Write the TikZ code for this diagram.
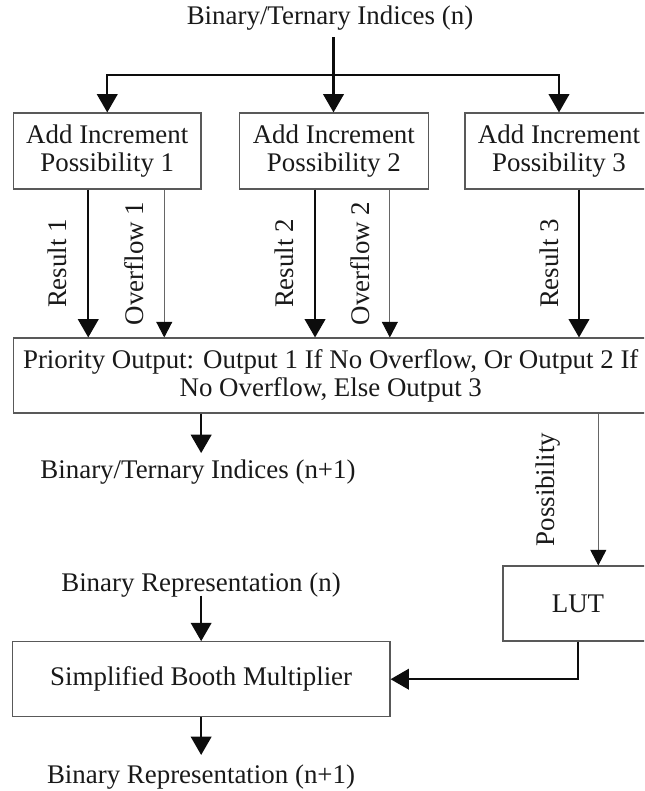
\documentclass[tikz,border=0pt]{standalone}
\usepackage{fontspec}
\setmainfont{Liberation Serif}
\usetikzlibrary{arrows.meta}
\begin{document}
\begin{tikzpicture}[x=0.5pt,y=-0.5pt,
  txt/.style={font=\fontsize{13.45}{14.1}\selectfont, text=black!90},
  blk/.style={draw=black!65, line width=0.55pt, align=center, inner sep=0pt, txt},
  lbl/.style={inner sep=0pt, txt},
  sidelbl/.style={inner sep=0pt, txt, rotate=90, anchor=south},
  thickarr/.style={line width=1.1pt, draw=black!95, -{Triangle[length=9.2pt,width=10.3pt]}},
  thinarr/.style={line width=0.45pt, draw=black!60, -{Triangle[length=7.8pt,width=8pt,color=black!95]}},
  thickline/.style={line width=1.1pt, draw=black!95},
]
\useasboundingbox (0,0) rectangle (644,791);
\clip (0,0) rectangle (644,791);

% blocks
\node[blk, minimum width=93.75pt, minimum height=38pt] (inc1) at (107.25,151) {Add Increment\\Possibility 1};
\node[blk, minimum width=94.5pt, minimum height=38pt] (inc2) at (333.85,151) {Add Increment\\Possibility 2};
\node[blk, minimum width=94pt, minimum height=38pt] (inc3) at (559,151) {Add Increment\\Possibility 3};
\node[blk, minimum width=317.25pt, minimum height=37.5pt] (prio) at (330.75,375.5)
  {Priority Output: Output 1 If No Overflow, Or Output 2 If\\No Overflow, Else Output 3};
\node[blk, minimum width=75pt, minimum height=37.5pt] (lut) at (578,603.5) {LUT};
\node[blk, minimum width=188.85pt, minimum height=37.5pt] (booth) at (201.15,679.2) {Simplified Booth Multiplier};

% free-standing labels
\node[lbl] (inN) at (330,18) {Binary/Ternary Indices (n)};
\node[lbl] (outN) at (198,471.7) {Binary/Ternary Indices (n+1)};
\node[lbl] (repN) at (201,585) {Binary Representation (n)};
\node[lbl] (repN1) at (201,777) {Binary Representation (n+1)};

% fan-out of the input indices
\coordinate (split) at (333.5,75);
\draw[thickline] ([yshift=-3.2pt]inN.south -| split) -- (split);
\draw[thickarr] (split) -| (inc1.north);
\draw[thickarr] (split) -- (split |- inc2.north);
\draw[thickarr] (split) -| (inc3.north);

% results and overflow flags
\draw[thickarr] ([xshift=-9.5pt]inc1.south) -- ([xshift=-9.5pt]inc1.south |- prio.north)
  node[midway, xshift=-10.25pt, sidelbl] {Result 1};
\draw[thinarr] ([xshift=28.5pt]inc1.south) -- ([xshift=28.5pt]inc1.south |- prio.north)
  node[midway, xshift=-10.25pt, sidelbl] {Overflow 1};
\draw[thickarr] ([xshift=-9.4pt]inc2.south) -- ([xshift=-9.4pt]inc2.south |- prio.north)
  node[midway, xshift=-10pt, sidelbl] {Result 2};
\draw[thinarr] ([xshift=28pt]inc2.south) -- ([xshift=28pt]inc2.south |- prio.north)
  node[midway, xshift=-10pt, sidelbl] {Overflow 2};
\draw[thickarr] ([xshift=10pt]inc3.south) -- ([xshift=10pt]inc3.south |- prio.north)
  node[midway, xshift=-9.5pt, sidelbl] {Result 3};

% outputs of the priority stage
\draw[thickarr] (prio.south -| booth.north) -- ([yshift=3pt]outN.north -| booth.north);
\draw[thinarr] ([xshift=10.15pt]lut.north |- prio.south) -- ([xshift=10.15pt]lut.north)
  node[midway, xshift=-18.6pt, sidelbl] {Possibility};

% multiplier path
\draw[thickarr] ([yshift=1pt]repN.south -| booth.north) -- (booth.north);
\draw[thickarr] (lut.south) |- (booth.east);
\draw[thickarr] (booth.south) -- ([yshift=4.7pt]repN1.north -| booth.south);
\end{tikzpicture}
\end{document}
